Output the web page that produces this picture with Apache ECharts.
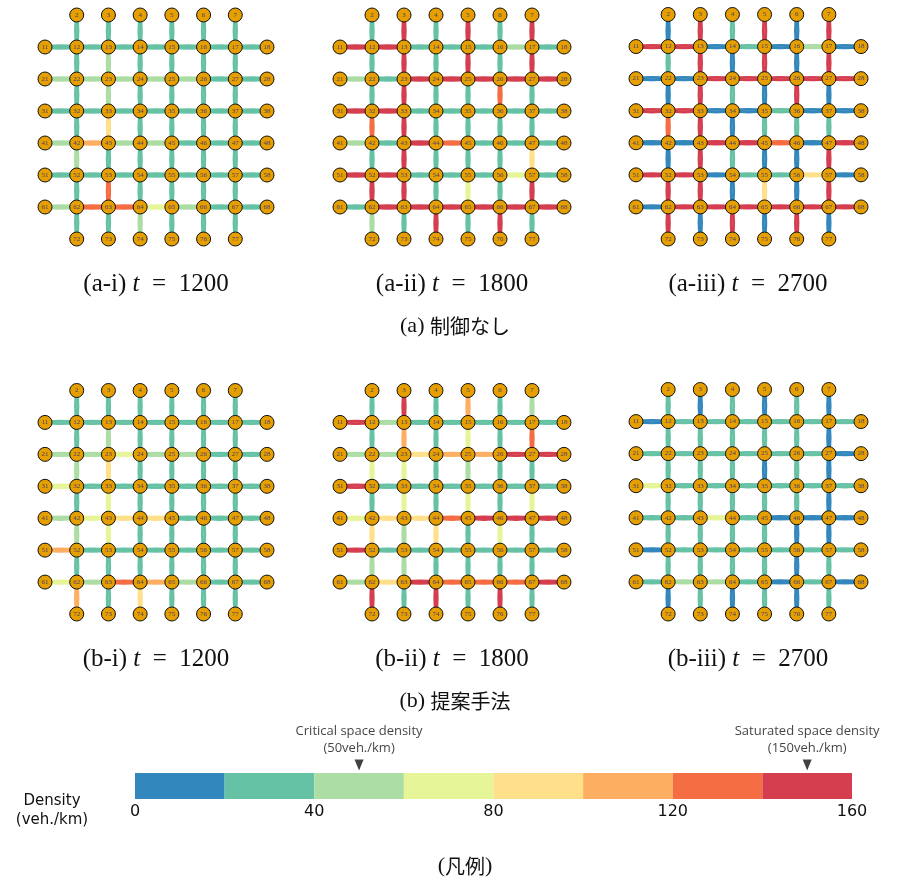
<!DOCTYPE html>
<html>
<head>
<meta charset="utf-8">
<script src="https://cdn.jsdelivr.net/npm/echarts@6/dist/echarts.min.js"></script>
<style>html,body{margin:0;padding:0;background:#fff;}#c{width:897px;height:882px;}</style>
</head>
<body>
<div id="c"></div>
<script>
// ---- legend bins ----
const binEdges = [0, 20, 40, 60, 80, 100, 120, 140, 160];
const binColors = ['#3288bd', '#66c2a5', '#abdda4', '#e6f598', '#fee08b', '#fdae61', '#f46d43', '#d53e4f'];
const legendTicks = [0, 40, 80, 120, 160];
const criticalDensity = 50;
const saturatedDensity = 150;

// ---- panel titles ----
const panelLabels = ['(a-i)', '(a-ii)', '(a-iii)', '(b-i)', '(b-ii)', '(b-iii)'];
const panelTimes = [1200, 1800, 2700, 1200, 1800, 2700];
const groupCaptions = ['(a) 制御なし', '(b) 提案手法'];

// ---- link densities (veh./km) ----
// H: rows 1..6, links (c,c+1) for c=1..7 ; V: columns 2..7, links (k,k+1) for k=0..6
const aiH = [
  [30,30,30,30,30,30,30],
  [50,50,50,50,50,30,30],
  [30,30,30,30,30,30,30],
  [50,110,50,50,30,30,30],
  [30,30,30,30,30,30,30],
  [50,130,130,70,50,30,30]];
const aiV = [
  [30,30,30,30,50,30,30],
  [30,50,50,90,30,130,30],
  [30,30,30,30,30,30,50],
  [30,30,30,30,30,30,30],
  [30,30,30,30,30,30,30],
  [30,30,30,30,30,30,30]];

const aiiH = [
  [150,150,30,30,30,50,30],
  [50,30,150,150,150,150,150],
  [150,150,30,30,30,30,30],
  [50,30,150,130,30,30,30],
  [150,150,30,30,30,70,30],
  [30,150,150,150,150,150,150]];
const aiiV = [
  [30,30,30,130,30,150,50],
  [150,150,150,150,150,150,30],
  [30,30,30,30,30,30,150],
  [150,150,30,30,30,70,30],
  [30,30,130,30,30,30,150],
  [150,150,30,30,90,150,30]];

const aiiiH = [
  [150,150,10,30,10,50,10],
  [10,10,150,150,150,150,150],
  [150,150,10,10,30,10,10],
  [10,10,150,150,130,10,150],
  [150,150,10,30,30,90,10],
  [10,150,150,150,150,150,150]];
const aiiiV = [
  [10,30,10,130,10,150,150],
  [150,150,150,150,150,150,10],
  [30,10,30,10,30,10,150],
  [150,150,10,30,10,90,10],
  [10,10,150,30,10,10,150],
  [150,150,10,30,150,150,10]];

const biH = [
  [30,30,30,30,30,30,30],
  [50,50,70,50,50,30,30],
  [70,30,30,30,30,30,30],
  [50,70,90,90,30,30,30],
  [110,30,30,30,30,30,30],
  [70,50,130,110,50,30,30]];
const biV = [
  [30,30,50,30,50,30,110],
  [30,50,90,70,70,30,30],
  [30,30,30,30,30,30,90],
  [30,30,30,30,30,30,30],
  [30,30,30,30,30,30,30],
  [30,30,30,30,30,30,30]];

const biiH = [
  [150,50,30,30,30,30,30],
  [50,50,90,110,110,150,150],
  [150,30,30,30,30,30,30],
  [70,90,90,130,150,150,150],
  [150,30,30,30,30,30,30],
  [50,90,150,130,130,130,150]];
const biiV = [
  [30,30,70,30,90,50,150],
  [150,110,70,70,50,50,30],
  [30,30,30,30,90,30,150],
  [110,70,50,70,30,30,30],
  [30,30,30,30,70,30,150],
  [50,130,30,70,30,30,30]];

const biiiH = [
  [10,30,30,30,30,30,30],
  [30,30,30,30,30,30,10],
  [70,30,30,30,30,30,30],
  [30,30,70,30,10,10,10],
  [10,30,30,30,30,30,30],
  [30,50,50,30,10,30,10]];
const biiiV = [
  [30,30,30,30,30,30,10],
  [10,30,30,30,30,30,30],
  [30,30,30,30,30,30,10],
  [10,30,10,30,30,30,30],
  [30,30,30,30,10,10,10],
  [10,10,10,10,10,30,30]];

const panelH = [aiH, aiiH, aiiiH, biH, biiH, biiiH];
const panelV = [aiV, aiiV, aiiiV, biV, biiV, biiiV];

// ---- layout (positions/styles) ----
const boxes = [
  {left: 45, top: 15, width: 222, height: 224},
  {left: 340, top: 15, width: 224, height: 224},
  {left: 636, top: 14.5, width: 225, height: 224.5},
  {left: 45, top: 390.5, width: 222, height: 223.5},
  {left: 340, top: 390.5, width: 224, height: 223.5},
  {left: 636, top: 389.5, width: 225, height: 224.5}
];

function colorOf(v) {
  for (let i = 0; i < binColors.length; i++) {
    if (v >= binEdges[i] && v < binEdges[i + 1]) return binColors[i];
  }
  return binColors[binColors.length - 1];
}

function buildNodes() {
  const nodes = [];
  for (let r = 0; r <= 7; r++) {
    for (let c = 1; c <= 8; c++) {
      if ((r === 0 || r === 7) && (c === 1 || c === 8)) continue;
      nodes.push({name: String(r * 10 + c), value: [c, r]});
    }
  }
  return nodes;
}

function buildLinks(H, V) {
  const links = [];
  const add = (a, b, v) => {
    const col = colorOf(v);
    links.push({source: String(a), target: String(b), value: v, lineStyle: {color: col, curveness: 0.08}});
    links.push({source: String(b), target: String(a), value: v, lineStyle: {color: col, curveness: 0.08}});
  };
  for (let r = 1; r <= 6; r++) {
    for (let c = 1; c <= 7; c++) add(r * 10 + c, r * 10 + c + 1, H[r - 1][c - 1]);
  }
  for (let c = 2; c <= 7; c++) {
    for (let k = 0; k <= 6; k++) add(k * 10 + c, (k + 1) * 10 + c, V[c - 2][k]);
  }
  return links;
}

const grids = [], xAxes = [], yAxes = [], series = [];
boxes.forEach((b, i) => {
  grids.push({left: b.left, top: b.top, width: b.width, height: b.height, containLabel: false});
  xAxes.push({gridIndex: i, type: 'value', min: 1, max: 8, show: false});
  yAxes.push({gridIndex: i, type: 'value', min: 0, max: 7, inverse: true, show: false});
  series.push({
    type: 'graph',
    coordinateSystem: 'cartesian2d',
    xAxisIndex: i, yAxisIndex: i,
    symbol: 'circle',
    symbolSize: 14,
    data: buildNodes(),
    links: buildLinks(panelH[i], panelV[i]),
    itemStyle: {color: '#e69f00', borderColor: '#111', borderWidth: 1},
    label: {show: true, position: 'inside', fontSize: 7, color: '#4a3c6b', fontFamily: 'Liberation Serif'},
    lineStyle: {width: 2.8, opacity: 1},
    emphasis: {disabled: true},
    z: 2
  });
});

// ---- legend colour bar ----
const legIdx = boxes.length;
grids.push({left: 135, top: 773, width: 717, height: 26});
xAxes.push({gridIndex: legIdx, type: 'value', min: 0, max: 160, interval: 40,
  axisLine: {show: false}, axisTick: {show: false}, splitLine: {show: false},
  axisLabel: {show: true, fontSize: 16, color: '#111', margin: 5, fontFamily: 'DejaVu Sans',
    customValues: legendTicks}});
yAxes.push({gridIndex: legIdx, type: 'category', data: ['d'], show: false});
for (let i = 0; i < binColors.length; i++) {
  series.push({
    type: 'bar', xAxisIndex: legIdx, yAxisIndex: legIdx, stack: 'legend',
    barWidth: 26, data: [binEdges[i + 1] - binEdges[i]],
    itemStyle: {color: binColors[i]}, silent: true
  });
}
series.push({
  type: 'scatter', xAxisIndex: legIdx, yAxisIndex: legIdx,
  symbol: 'triangle', symbolRotate: 180, symbolSize: [9, 11], symbolOffset: [0, -21],
  itemStyle: {color: '#111'},
  data: [
    {value: [criticalDensity, 'd'], label: {formatter: 'Critical space density\n(50veh./km)'}},
    {value: [saturatedDensity, 'd'], label: {formatter: 'Saturated space density\n(150veh./km)'}}
  ],
  label: {show: true, position: 'top', distance: 3, fontSize: 13, lineHeight: 17, color: '#111', fontFamily: 'Open Sans'},
  silent: true, z: 5
});

// ---- captions ----
const captionX = [156, 452, 748];
const graphic = [];
panelLabels.forEach((lab, i) => {
  graphic.push({
    type: 'text', x: captionX[i % 3], y: i < 3 ? 284 : 659,
    style: {
      text: '{s|' + lab + ' }{i|t}{s|  =  ' + panelTimes[i] + '}',
      rich: {
        s: {fontFamily: 'Liberation Serif', fontSize: 25, fill: '#111'},
        i: {fontFamily: 'Liberation Serif', fontStyle: 'italic', fontSize: 25, fill: '#111'}
      },
      align: 'center', verticalAlign: 'middle'
    }
  });
});
groupCaptions.forEach((cap, i) => {
  const m = cap.match(/^(\(.\)) (.*)$/);
  graphic.push({
    type: 'text', x: 455, y: i === 0 ? 326 : 701,
    style: {
      text: '{s|' + m[1] + ' }{j|' + m[2] + '}',
      rich: {
        s: {fontFamily: 'Liberation Serif', fontSize: 22, fill: '#111'},
        j: {fontFamily: 'Noto Sans CJK JP', fontSize: 20, fill: '#111'}
      },
      align: 'center', verticalAlign: 'middle'
    }
  });
});
graphic.push({
  type: 'text', x: 52, y: 811,
  style: {text: 'Density\n(veh./km)', fontFamily: 'DejaVu Sans', fontSize: 15, lineHeight: 19,
    fill: '#111', align: 'center', verticalAlign: 'middle'}
});
graphic.push({
  type: 'text', x: 465, y: 866,
  style: {text: '{s|(}{j|凡例}{s|)}', rich: {
    s: {fontFamily: 'Liberation Serif', fontSize: 22, fill: '#111'},
    j: {fontFamily: 'Noto Sans CJK JP', fontSize: 20, fill: '#111'}},
    align: 'center', verticalAlign: 'middle'}
});

const chart = echarts.init(document.getElementById('c'), null, {renderer: 'canvas'});
chart.setOption({
  backgroundColor: '#fff',
  animation: false,
  grid: grids, xAxis: xAxes, yAxis: yAxes,
  series: series,
  graphic: graphic
});
</script>
</body>
</html>
